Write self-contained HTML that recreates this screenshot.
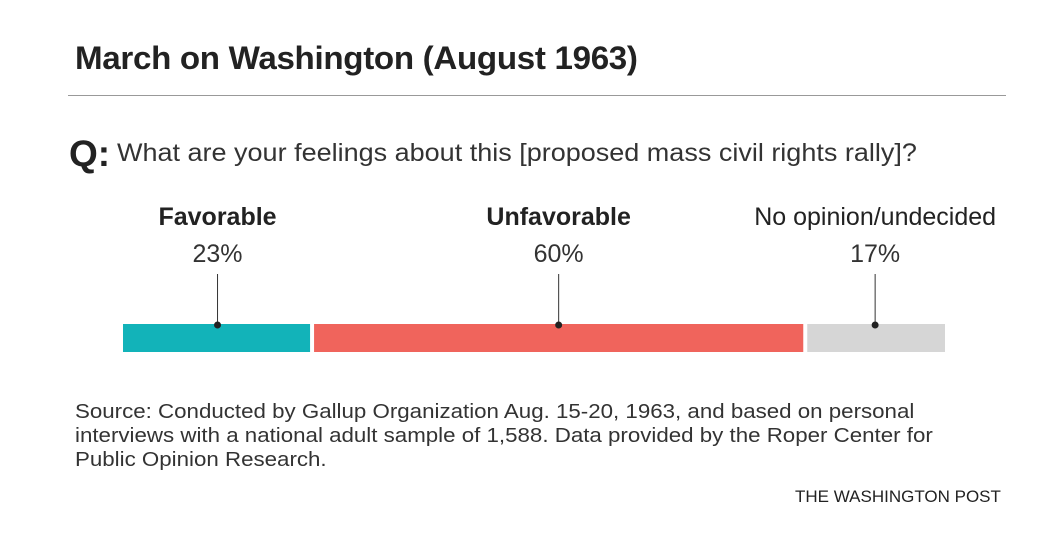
<!DOCTYPE html>
<html><head><meta charset="utf-8"><style>
body{margin:0;background:#fff;width:1056px;height:542px;overflow:hidden;position:relative;font-family:"Liberation Sans",sans-serif;color:#222}
.a{position:absolute;white-space:nowrap}
</style></head><body>
<div class="a" style="left:75px;top:40px;font-size:32px;font-weight:bold;letter-spacing:-0.3px;transform:scaleX(1.035);transform-origin:left">March on Washington (August 1963)</div>
<div class="a" style="left:68px;top:95px;width:938px;height:1px;background:#999"></div>
<div class="a" style="left:69px;top:133px;font-size:37px;font-weight:bold">Q:</div>
<div class="a" style="left:117px;top:139px;font-size:25px;color:#333;transform:scaleX(1.08);transform-origin:left">What are your feelings about this [proposed mass civil rights rally]?</div>
<svg id="chart" class="a" style="left:0;top:0" width="1056" height="542"></svg>
<div class="a" style="left:75px;top:400px;font-size:20px;line-height:24px;color:#333;transform:scaleX(1.115);transform-origin:left">Source: Conducted by Gallup Organization Aug. 15-20, 1963, and based on personal<br>interviews with a national adult sample of 1,588. Data provided by the Roper Center for<br>Public Opinion Research.</div>
<div class="a" style="left:795px;top:487px;font-size:17px;color:#222">THE WASHINGTON POST</div>
<script>
const categories=["Favorable","Unfavorable","No opinion/undecided"];
const values=[23,60,17];
const colors=["#12b3b9","#f0645c","#d6d6d6"];
const bold=[true,true,false];
const svg=document.getElementById('chart');
const NS="http://www.w3.org/2000/svg";
const x0=123,x1=945,gap=4,total=values.reduce((a,b)=>a+b,0);
const xs=v=>v/total*(x1-x0);
let cx=x0;
values.forEach((v,i)=>{
  const w=xs(v);
  const r=document.createElementNS(NS,'rect');
  r.setAttribute('x',cx+(i?gap/2:0));r.setAttribute('y',324);
  r.setAttribute('width',w-(i?gap/2:0)-(i<values.length-1?gap/2:0));r.setAttribute('height',28);
  r.setAttribute('fill',colors[i]);
  
  
  svg.appendChild(r);
  const c=cx+w/2;
  const l=document.createElementNS(NS,'line');
  l.setAttribute('x1',c);l.setAttribute('x2',c);l.setAttribute('y1',274);l.setAttribute('y2',325);
  l.setAttribute('stroke','#333');l.setAttribute('stroke-width',1);
  
  
  svg.appendChild(l);
  const d=document.createElementNS(NS,'circle');
  d.setAttribute('cx',c);d.setAttribute('cy',325);d.setAttribute('r',3.5);d.setAttribute('fill','#222');
  
  
  svg.appendChild(d);
  const t=document.createElementNS(NS,'text');
  t.setAttribute('x',c);t.setAttribute('y',225);t.setAttribute('text-anchor','middle');
  t.setAttribute('font-size',25);t.setAttribute('font-family','Liberation Sans, sans-serif');
  if(bold[i])t.setAttribute('font-weight','bold');
  t.setAttribute('fill','#222');
  t.textContent=categories[i];
  
  
  svg.appendChild(t);
  const p=document.createElementNS(NS,'text');
  p.setAttribute('x',c);p.setAttribute('y',262);p.setAttribute('text-anchor','middle');
  p.setAttribute('font-size',25);p.setAttribute('font-family','Liberation Sans, sans-serif');
  p.setAttribute('fill','#333');
  p.textContent=v+'%';
  
  
  svg.appendChild(p);
  cx+=w;
});
</script>
</body></html>
